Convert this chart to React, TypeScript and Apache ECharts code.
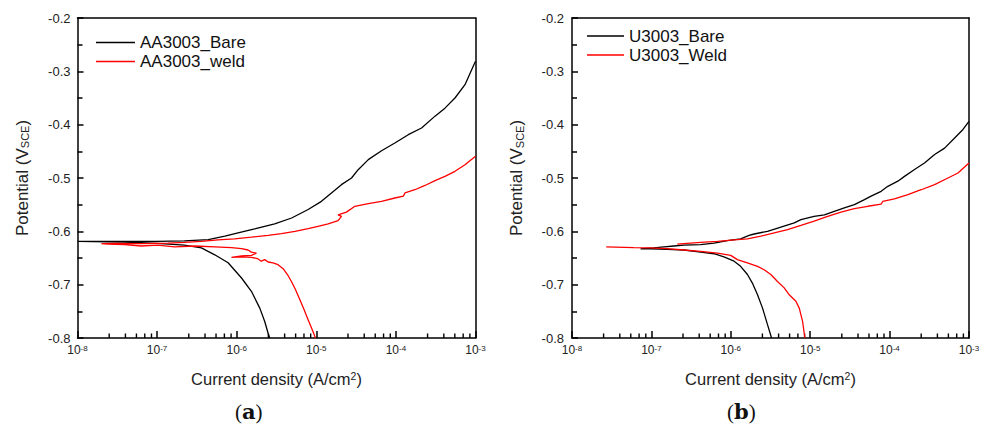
import React, { useEffect, useRef } from "react";
import * as echarts from "echarts";

// ---- Data: [current density (A/cm2), potential (V vs SCE)] ----
const aaBare: [number, number][] = [
  [2.6e-6, -0.8], [2.48e-6, -0.791], [2.25e-6, -0.769], [1.95e-6, -0.744], [1.53e-6, -0.7125],
  [1.15e-6, -0.6875], [7.8e-7, -0.659], [5.3e-7, -0.644], [3.6e-7, -0.631], [2.2e-7, -0.626],
  [1.0e-7, -0.6225], [3.9e-8, -0.62], [1e-8, -0.6188], [2.4e-8, -0.6188], [1.0e-7, -0.6188],
  [2.2e-7, -0.618], [4.4e-7, -0.6156], [7.1e-7, -0.609], [1.04e-6, -0.603], [1.68e-6, -0.5956],
  [3.0e-6, -0.586], [4.9e-6, -0.575], [7.9e-6, -0.559], [1.16e-5, -0.5438], [1.55e-5, -0.528],
  [2.07e-5, -0.5125], [2.77e-5, -0.5], [3.36e-5, -0.4844], [4.5e-5, -0.4656], [6.6e-5, -0.4488],
  [9.7e-5, -0.4344], [1.43e-4, -0.4188], [2.1e-4, -0.4063], [3.1e-4, -0.384], [4.13e-4, -0.369],
  [5.52e-4, -0.35], [7.38e-4, -0.325], [8.95e-4, -0.297], [1e-3, -0.281],
];

const aaWeld: [number, number][] = [
  [9.77e-6, -0.8], [8.87e-6, -0.784], [7.89e-6, -0.7656], [7.03e-6, -0.747], [6.2e-6, -0.728],
  [5.47e-6, -0.709], [4.87e-6, -0.694], [4.34e-6, -0.681], [3.83e-6, -0.67], [3.31e-6, -0.6625],
  [2.86e-6, -0.659], [2.48e-6, -0.6575], [2.25e-6, -0.653], [2.04e-6, -0.656], [1.82e-6, -0.651],
  [1.53e-6, -0.649], [1.15e-6, -0.648], [8.6e-7, -0.649], [1.15e-6, -0.646], [1.53e-6, -0.645],
  [1.77e-6, -0.641], [1.53e-6, -0.639], [1.39e-6, -0.635], [1.15e-6, -0.6325], [8.6e-7, -0.6306],
  [5.3e-7, -0.629], [3.0e-7, -0.6275], [1.66e-7, -0.629], [1.02e-7, -0.626], [6.3e-8, -0.6275],
  [3.9e-8, -0.625], [2.4e-8, -0.624], [2.0e-8, -0.623],
  [2.9e-8, -0.6225], [6.3e-8, -0.623], [1.37e-7, -0.622], [2.2e-7, -0.6206], [3.6e-7, -0.6188],
  [5.8e-7, -0.616], [9.4e-7, -0.614], [1.53e-6, -0.611], [2.48e-6, -0.6075], [3.65e-6, -0.6044],
  [5.4e-6, -0.6], [7.9e-6, -0.595], [1.05e-5, -0.5906], [1.41e-5, -0.586], [1.88e-5, -0.58],
  [2.07e-5, -0.572], [1.88e-5, -0.569], [2.39e-5, -0.564], [3.05e-5, -0.553], [4.5e-5, -0.548],
  [6.6e-5, -0.544], [9.7e-5, -0.5375], [1.24e-4, -0.534], [1.3e-4, -0.528], [1.73e-4, -0.522],
  [2.32e-4, -0.514], [3.1e-4, -0.505], [4.13e-4, -0.497], [5.52e-4, -0.4875], [7.38e-4, -0.475],
  [1e-3, -0.459],
];

const u3Bare: [number, number][] = [
  [3.26e-6, -0.8], [2.9e-6, -0.775], [2.51e-6, -0.744], [2.17e-6, -0.719], [1.87e-6, -0.697],
  [1.62e-6, -0.681], [1.33e-6, -0.6656], [1.1e-6, -0.656], [8.2e-7, -0.648], [6.15e-7, -0.642],
  [4.17e-7, -0.639], [2.57e-7, -0.635], [1.58e-7, -0.634], [9.75e-8, -0.633], [7.3e-8, -0.633],
  [1.07e-7, -0.631], [1.44e-7, -0.629], [1.92e-7, -0.6275], [2.57e-7, -0.626], [4.17e-7, -0.625],
  [6.15e-7, -0.622], [9.06e-7, -0.6175], [1.33e-6, -0.614], [1.7e-6, -0.6075], [1.97e-6, -0.605],
  [2.9e-6, -0.6], [4.27e-6, -0.592], [6.3e-6, -0.584], [7.64e-6, -0.578], [1.12e-5, -0.572],
  [1.51e-5, -0.569], [2.01e-5, -0.5625], [2.69e-5, -0.556], [3.6e-5, -0.55], [4.82e-5, -0.5406],
  [5.85e-5, -0.534], [7.82e-5, -0.525], [9.5e-5, -0.5156], [1.27e-4, -0.506], [1.54e-4, -0.497],
  [2.06e-4, -0.484], [2.75e-4, -0.472], [3.69e-4, -0.456], [4.93e-4, -0.444], [6.59e-4, -0.425],
  [8.4e-4, -0.409], [1e-3, -0.394],
];

const u3WeldCathodic: [number, number][] = [
  [8.57e-6, -0.8], [8.02e-6, -0.769], [7.28e-6, -0.744], [6.6e-6, -0.731], [5.45e-6, -0.719],
  [4.71e-6, -0.706], [3.87e-6, -0.694], [3.19e-6, -0.681], [2.63e-6, -0.672], [2.17e-6, -0.6656],
  [1.62e-6, -0.659], [1.21e-6, -0.653], [1.0e-6, -0.645], [6.8e-7, -0.641], [4.17e-7, -0.6375],
  [2.57e-7, -0.635], [1.58e-7, -0.6325], [9.75e-8, -0.631], [6.0e-8, -0.6306], [2.7e-8, -0.629],
];

const u3WeldAnodic: [number, number][] = [
  [2.12e-7, -0.624], [4.17e-7, -0.6206], [6.8e-7, -0.619], [1.1e-6, -0.616], [1.62e-6, -0.614],
  [2.39e-6, -0.609], [3.52e-6, -0.603], [5.19e-6, -0.597], [7.64e-6, -0.589], [1.12e-5, -0.581],
  [1.66e-5, -0.572], [2.44e-5, -0.564], [3.6e-5, -0.5575], [5.31e-5, -0.553], [7.82e-5, -0.549],
  [8.2e-5, -0.544], [1.15e-4, -0.539], [1.7e-4, -0.531], [2.5e-4, -0.522], [3.69e-4, -0.5125],
  [5.43e-4, -0.5], [7.26e-4, -0.4906], [1e-3, -0.472],
];

const legendLeft = ["AA3003_Bare", "AA3003_weld"];
const legendRight = ["U3003_Bare", "U3003_Weld"];
const panelLabels = ["a", "b"];

// axis settings
const xMin = 1e-8;
const xMax = 1e-3;
const yMin = -0.8;
const yMax = -0.2;
const yInterval = 0.1;
const minorMantissas = [2.5, 4, 5.5, 7, 8.5];
const decadeExps = [-8, -7, -6, -5, -4];
const minorTickValues = decadeExps.flatMap((e) => minorMantissas.map((m) => m * Math.pow(10, e)));

const FONT = "'Liberation Sans', Arial, sans-serif";
const TXT = "#222";
const AX = "#000";

function makeXAxis(gridIndex: number) {
  return {
    type: "log",
    logBase: 10,
    gridIndex,
    min: xMin,
    max: xMax,
    axisLine: { show: true, onZero: false, lineStyle: { color: AX, width: 1.5 } },
    axisTick: { show: true, inside: true, length: 7, lineStyle: { color: AX, width: 1.5 } },
    splitLine: { show: false },
    axisLabel: {
      margin: 6,
      formatter: (v: number) => `{b|10}{s|${Math.round(Math.log10(v))}}`,
      rich: {
        b: { fontSize: 12, color: TXT },
        s: { fontSize: 8, verticalAlign: "top", color: TXT },
      },
    },
    name: "Current density (A/cm{sup|2})",
    nameLocation: "middle",
    nameGap: 32,
    nameTextStyle: {
      fontSize: 16.5,
      color: TXT,
      rich: { sup: { fontSize: 10.5, verticalAlign: "top", color: TXT } },
    },
  };
}

function makeYAxis(gridIndex: number, labelMargin: number) {
  return {
    type: "value",
    gridIndex,
    min: yMin,
    max: yMax,
    interval: yInterval,
    axisLine: { show: true, onZero: false, lineStyle: { color: AX, width: 1.5 } },
    axisTick: { show: true, inside: true, length: 6, lineStyle: { color: AX, width: 1.5 } },
    minorTick: { show: true, splitNumber: 2, length: 5, lineStyle: { color: AX, width: 1.5 } },
    splitLine: { show: false },
    axisLabel: {
      margin: labelMargin,
      fontSize: 13,
      color: TXT,
      formatter: (v: number) => v.toFixed(1),
    },
    name: "Potential (V{sub|SCE})",
    nameLocation: "middle",
    nameGap: 47,
    nameRotate: 90,
    nameTextStyle: {
      fontSize: 17,
      color: TXT,
      rich: { sub: { fontSize: 11, verticalAlign: "bottom", color: TXT } },
    },
  };
}

// frame-only axes (top and right edges of each plot box)
function frameXAxis(gridIndex: number) {
  return {
    type: "log",
    logBase: 10,
    gridIndex,
    position: "top",
    min: xMin,
    max: xMax,
    axisLine: { show: true, onZero: false, lineStyle: { color: AX, width: 1.5 } },
    axisTick: { show: false },
    axisLabel: { show: false },
    splitLine: { show: false },
  };
}

function frameYAxis(gridIndex: number) {
  return {
    type: "value",
    gridIndex,
    position: "right",
    min: yMin,
    max: yMax,
    interval: yInterval,
    axisLine: { show: true, onZero: false, lineStyle: { color: AX, width: 1.5 } },
    axisTick: { show: false },
    axisLabel: { show: false },
    splitLine: { show: false },
  };
}

function minorTickSeries(axisIndex: number) {
  return {
    type: "custom",
    xAxisIndex: axisIndex,
    yAxisIndex: axisIndex,
    data: minorTickValues.map((v) => [v, yMin]),
    renderItem: (_params: any, api: any) => {
      const p = api.coord([api.value(0), api.value(1)]);
      return {
        type: "line",
        shape: { x1: p[0], y1: p[1], x2: p[0], y2: p[1] - 4.5 },
        style: { stroke: AX, lineWidth: 1.4 },
      };
    },
  };
}

function lineSeries(name: string, data: [number, number][], color: string, axisIndex: number) {
  return {
    type: "line",
    name,
    xAxisIndex: axisIndex,
    yAxisIndex: axisIndex,
    data,
    symbol: "none",
    lineStyle: { color, width: 1.3 },
    itemStyle: { color },
  };
}

function legendCfg(data: string[], left: number, top: number, itemWidth: number) {
  return {
    data: data.map((name) => ({ name, icon: "rect" })),
    orient: "vertical",
    left,
    top,
    itemWidth,
    itemHeight: 1.5,
    itemGap: 2,
    textStyle: { fontSize: 17, color: "#111" },
  };
}

function panelTitle(label: string, left: number) {
  return {
    text: `({b|${label}})`,
    left,
    top: 401,
    padding: 0,
    textStyle: {
      fontSize: 21,
      fontWeight: "normal",
      color: "#111",
      fontFamily: "'Liberation Serif', serif",
      rich: { b: { fontSize: 21, fontWeight: "bold", color: "#111", fontFamily: "'DejaVu Serif', serif" } },
    },
  };
}

export default function App() {
  const ref = useRef<HTMLDivElement>(null);

  useEffect(() => {
    if (!ref.current) return;
    const chart = echarts.init(ref.current, undefined, { renderer: "svg" });
    const option: any = {
      animation: false,
      textStyle: { fontFamily: FONT },
      title: [panelTitle(panelLabels[0], 235), panelTitle(panelLabels[1], 727)],
      grid: [
        { left: 77.5, top: 18, width: 398, height: 320, show: false },
        { left: 572, top: 18, width: 397, height: 320, show: false },
      ],
      xAxis: [makeXAxis(0), makeXAxis(1), frameXAxis(0), frameXAxis(1)],
      yAxis: [makeYAxis(0, 7), makeYAxis(1, 8), frameYAxis(0), frameYAxis(1)],
      legend: [legendCfg(legendLeft, 91, 29, 39), legendCfg(legendRight, 582, 22.5, 37)],
      series: [
        lineSeries(legendLeft[0], aaBare, "#000000", 0),
        lineSeries(legendLeft[1], aaWeld, "#ff0000", 0),
        lineSeries(legendRight[0], u3Bare, "#000000", 1),
        lineSeries(legendRight[1], u3WeldCathodic, "#ff0000", 1),
        lineSeries(legendRight[1], u3WeldAnodic, "#ff0000", 1),
        minorTickSeries(0),
        minorTickSeries(1),
      ],
    };
    chart.setOption(option);
    return () => chart.dispose();
  }, []);

  return <div ref={ref} style={{ position: "absolute", left: 0, top: 0, width: 987, height: 428 }} />;
}
